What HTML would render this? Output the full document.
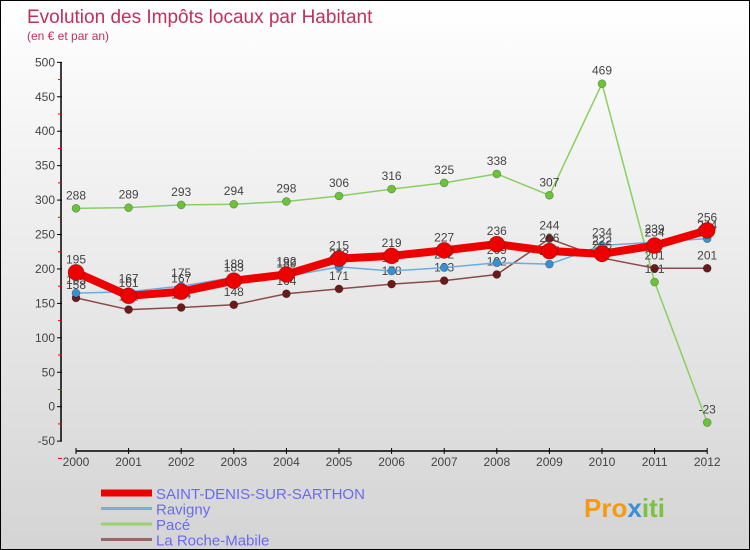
<!DOCTYPE html>
<html><head><meta charset="utf-8"><style>
body{margin:0}
#wrap{width:750px;height:550px;position:relative;overflow:hidden;box-sizing:border-box;border:1px solid #000;background:linear-gradient(#ffffff,#d4d4d4);font-family:"Liberation Sans",sans-serif}
</style></head><body>
<div id="wrap">
<svg id="chart" width="750" height="550" style="position:absolute;left:0;top:0">
<text x="26" y="22" font-size="19" fill="#c0305a">Evolution des Impôts locaux par Habitant</text>
<text x="26" y="39" font-size="12" fill="#c0305a">(en € et par an)</text>
<g id="axes"></g><g id="series"></g><g id="legend"></g>
<text x="583" y="516" font-size="26" font-weight="bold" fill="#f39c12">Pro<tspan fill="#3a8fd8">x</tspan><tspan fill="#7cc242">iti</tspan></text>
</svg>
</div>
<script>
const years=[2000,2001,2002,2003,2004,2005,2006,2007,2008,2009,2010,2011,2012];
const yTicks=[500,450,400,350,300,250,200,150,100,50,0,-50];
const sdsValues=[195,161,167,183,192,215,219,227,236,226,222,234,256];
const ravignyValues=[165,167,175,188,189,203,197,202,209,207,234,239,244];
const paceValues=[288,289,293,294,298,306,316,325,338,307,469,181,-23];
const rocheValues=[158,141,144,148,164,171,178,183,192,244,216,201,201];
const NS='http://www.w3.org/2000/svg';
const xS=i=>75+i*52.6;
const yS=v=>405.7-v*0.6887;
function mk(tag,attrs,parent){const e=document.createElementNS(NS,tag);for(const k in attrs)e.setAttribute(k,attrs[k]);parent.appendChild(e);return e;}
const axes=document.getElementById('axes');
let l=mk('line',{x1:60,y1:61,x2:60,y2:440,stroke:'#000','stroke-width':1.5},axes);


yTicks.forEach(v=>{
 const t=mk('line',{x1:56,y1:yS(v),x2:61,y2:yS(v),stroke:'#000'},axes);
 
 
 const m=mk('line',{x1:57,y1:yS(v-25),x2:61,y2:yS(v-25),stroke:'#e00'},axes);
 
 
 const tx=mk('text',{x:54,y:yS(v)+4,'text-anchor':'end','font-size':12,fill:'#444'},axes);
 tx.textContent=v;
 
 
});
l=mk('line',{x1:75,y1:450,x2:706,y2:450,stroke:'#000','stroke-width':1.5},axes);


years.forEach((y,i)=>{
 const t=mk('line',{x1:xS(i),y1:447,x2:xS(i),y2:453,stroke:'#000'},axes);
 
 
 const tx=mk('text',{x:xS(i),y:465,'text-anchor':'middle','font-size':12,fill:'#444'},axes);
 tx.textContent=y;
 
 
});
const series=[
 {name:'pace',vals:paceValues,color:'#88d060',dot:'#6cc238',w:1.5,r:4},
 {name:'la-roche-mabile',vals:rocheValues,color:'#8a4a4a',dot:'#6a1a1a',w:1.5,r:4},
 {name:'ravigny',vals:ravignyValues,color:'#6aaee0',dot:'#3a8fd0',w:1.5,r:4},
 {name:'saint-denis-sur-sarthon',vals:sdsValues,color:'#ee0000',dot:'#ee0000',w:8,r:8}
];
const sg=document.getElementById('series');
series.forEach(s=>{
 const g=mk('g',{},sg);
 
 
 const p=mk('polyline',{points:s.vals.map((v,i)=>xS(i)+','+yS(v)).join(' '),fill:'none',stroke:s.color,'stroke-width':s.w},g);
 
 
 s.vals.forEach((v,i)=>{
  const c=mk('circle',{cx:xS(i),cy:yS(v),r:s.r,fill:s.dot,stroke:'rgba(0,0,0,0.3)','stroke-width':0.7},g);
  
  
  const t=mk('text',{x:xS(i),y:yS(v)-9,'text-anchor':'middle','font-size':12,fill:'#444'},g);
  t.textContent=v;
  
  
 });
});
const lg=document.getElementById('legend');
const legendNames=['SAINT-DENIS-SUR-SARTHON','Ravigny','Pacé','La Roche-Mabile'];
const legendColors=['#ee0000','#7aaed8','#9ad070','#956868'];
const legendWidths=[7,3,3,3];
legendNames.forEach((n,i)=>{
 const y=492+i*15.5;
 const ln=mk('line',{x1:100,y1:y,x2:151,y2:y,stroke:legendColors[i],'stroke-width':legendWidths[i]},lg);
 
 
 const t=mk('text',{x:155,y:y+6,'font-size':15,fill:'#6a6af0'},lg);
 t.textContent=n;
 
 
});
</script>
</body></html>
